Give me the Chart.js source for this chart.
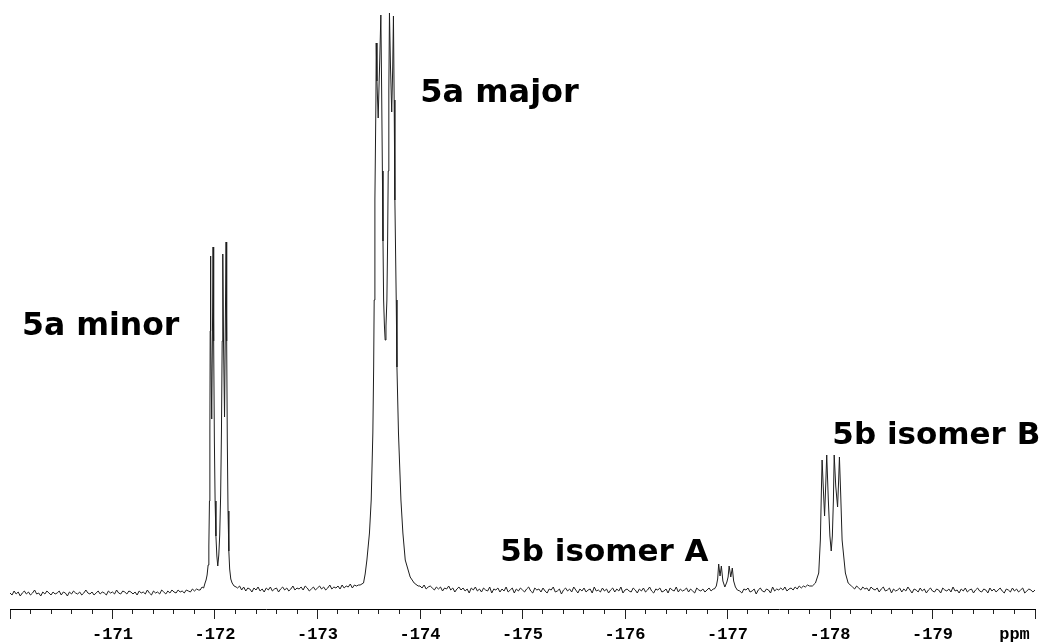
<!DOCTYPE html>
<html><head><meta charset="utf-8">
<script src="https://cdn.jsdelivr.net/npm/chart.js@4.4.1/dist/chart.umd.min.js"></script>
<style>html,body{margin:0;padding:0;background:#fff;overflow:hidden}canvas{display:block}</style>
</head><body>
<canvas id="c" width="1043" height="643"></canvas>
<script>
// ---- Spectrum data (chemical shift in ppm, intensity in arbitrary units) ----
const baseA_ppm = [
-170.00,-170.02,-170.04,-170.06,-170.08,-170.10,-170.12,-170.14,-170.16,-170.18,
-170.20,-170.22,-170.24,-170.26,-170.28,-170.30,-170.32,-170.34,-170.36,-170.38,
-170.40,-170.42,-170.44,-170.46,-170.48,-170.50,-170.52,-170.54,-170.56,-170.58,
-170.60,-170.62,-170.64,-170.66,-170.68,-170.70,-170.72,-170.74,-170.76,-170.78,
-170.80,-170.82,-170.84,-170.86,-170.88,-170.90,-170.92,-170.94,-170.96,-170.98,
-171.00,-171.02,-171.04,-171.06,-171.08,-171.10,-171.12,-171.14,-171.16,-171.18,
-171.20,-171.22,-171.24,-171.26,-171.28,-171.30,-171.32,-171.34,-171.36,-171.38,
-171.40,-171.42,-171.44,-171.46,-171.48,-171.50,-171.52,-171.54,-171.56,-171.58,
-171.60,-171.62,-171.64,-171.66,-171.68,-171.70,-171.72,-171.74,-171.76,-171.78,
-171.80,-171.82,-171.84];
const baseA_int = [
-2,-4,0,-3,-1,-5,-2,0,-3,-1,
-4,-2,1,-3,-2,-5,-1,-3,0,-2,
-4,-1,-3,-2,0,-4,-1,-2,-5,-1,
-3,0,-2,-3,-1,-4,-2,1,-2,-3,
-1,-4,-2,0,-3,-1,-2,-4,0,-2,
-1,-3,1,-2,-3,0,-1,-3,0,-1,
-3,-1,-4,0,-2,-1,-3,1,-2,-4,
0,-2,-1,-3,1,-1,-3,0,-2,1,
-1,-2,1,-1,0,-2,1,0,-1,2,
0,2,1];

const minor_ppm = [-171.855,-171.874,-171.889,-171.903,-171.913,-171.923,-171.933,-171.940,-171.946,-171.950,-171.953,-171.955,-171.960,-171.968,-171.976,-171.981,-171.987,-171.994,-172.001,-172.009,-172.018,-172.027,-172.037,-172.046,-172.055,-172.063,-172.070,-172.076,-172.083,-172.093,-172.101,-172.108,-172.114,-172.120,-172.127,-172.135,-172.143,-172.154,-172.167,-172.186,-172.206];
const minor_int = [1,4,3,8,11,16,26,45,90,160,260,335,260,172,270,344,250,150,90,55,35,25,36,56,95,160,250,337,250,174,270,349,250,150,80,40,22,12,8,5,4];

const baseB_ppm = [
-172.22,-172.24,-172.26,-172.28,-172.30,-172.32,-172.34,-172.36,-172.38,-172.40,
-172.42,-172.44,-172.46,-172.48,-172.50,-172.52,-172.54,-172.56,-172.58,-172.60,
-172.62,-172.64,-172.66,-172.68,-172.70,-172.72,-172.74,-172.76,-172.78,-172.80,
-172.82,-172.84,-172.86,-172.88,-172.90,-172.92,-172.94,-172.96,-172.98,-173.00,
-173.02,-173.04,-173.06,-173.08,-173.10,-173.12,-173.14,-173.16,-173.18,-173.20,
-173.22,-173.24,-173.26,-173.28,-173.30,-173.32,-173.34,-173.36,-173.38,-173.40];
const baseB_int = [
3,5,1,4,0,3,2,-1,3,1,
4,0,2,-1,3,1,4,0,2,3,
-1,2,4,1,3,0,2,5,1,3,
2,4,1,5,3,0,2,4,1,3,
5,2,4,1,3,6,2,4,3,5,
2,6,3,5,4,7,3,6,5,6];

const major_ppm = [-173.416,-173.449,-173.465,-173.482,-173.494,-173.507,-173.524,-173.540,-173.548,-173.553,-173.560,-173.570,-173.573,-173.580,-173.592,-173.607,-173.618,-173.626,-173.633,-173.639,-173.645,-173.653,-173.660,-173.668,-173.677,-173.684,-173.690,-173.696,-173.702,-173.712,-173.724,-173.734,-173.741,-173.748,-173.755,-173.768,-173.775,-173.790,-173.814,-173.833,-173.856,-173.904,-173.943,-173.982];
const major_int = [6,8,17,31,44,58,91,158,224,291,391,491,548,510,473,530,576,500,420,350,291,265,251,265,291,350,420,500,578,525,479,525,575,491,391,291,224,158,91,58,31,14,8,5];

const baseC_ppm = [
-174.00,-174.02,-174.04,-174.06,-174.08,-174.10,-174.12,-174.14,-174.16,-174.18,
-174.20,-174.22,-174.24,-174.26,-174.28,-174.30,-174.32,-174.34,-174.36,-174.38,
-174.40,-174.42,-174.44,-174.46,-174.48,-174.50,-174.52,-174.54,-174.56,-174.58,
-174.60,-174.62,-174.64,-174.66,-174.68,-174.70,-174.72,-174.74,-174.76,-174.78,
-174.80,-174.82,-174.84,-174.86,-174.88,-174.90,-174.92,-174.94,-174.96,-174.98,
-175.00,-175.02,-175.04,-175.06,-175.08,-175.10,-175.12,-175.14,-175.16,-175.18,
-175.20,-175.22,-175.24,-175.26,-175.28,-175.30,-175.32,-175.34,-175.36,-175.38,
-175.40,-175.42,-175.44,-175.46,-175.48,-175.50,-175.52,-175.54,-175.56,-175.58,
-175.60,-175.62,-175.64,-175.66,-175.68,-175.70,-175.72,-175.74,-175.76,-175.78,
-175.80,-175.82,-175.84,-175.86,-175.88,-175.90,-175.92,-175.94,-175.96,-175.98,
-176.00,-176.02,-176.04,-176.06,-176.08,-176.10,-176.12,-176.14,-176.16,-176.18,
-176.20,-176.22,-176.24,-176.26,-176.28,-176.30,-176.32,-176.34,-176.36,-176.38,
-176.40,-176.42,-176.44,-176.46,-176.48,-176.50,-176.52,-176.54,-176.56,-176.58,
-176.60,-176.62,-176.64,-176.66,-176.68,-176.70,-176.72,-176.74,-176.76,-176.78,
-176.80,-176.82,-176.84,-176.86];
const baseC_int = [
5,3,6,2,4,5,3,1,4,2,
4,0,3,2,5,1,3,-1,2,4,
1,3,0,2,-2,3,1,4,0,2,
-1,3,1,0,4,-2,2,1,3,-1,
2,0,4,-1,1,3,-2,2,0,3,
1,-1,2,4,0,-2,3,1,2,-1,
3,0,-2,2,1,4,-1,0,2,-3,
1,3,0,2,-1,4,1,-2,2,0,
3,-1,1,2,-2,4,0,1,-1,3,
0,2,-2,1,3,-1,2,0,4,-2,
1,2,0,-1,3,1,-2,2,0,3,
-1,1,4,0,-2,2,1,3,-1,0,
2,-2,3,1,0,4,-1,2,0,1,
3,-1,2,0,-2,3,1,0,2,-1,
1,3,0,2];

const isoA_ppm = [-176.872,-176.891,-176.904,-176.914,-176.927,-176.940,-176.955,-176.974,-176.994,-177.006,-177.016,-177.032,-177.047,-177.060,-177.077,-177.096];
const isoA_int = [2,5,12,27,15,25,10,4,9,14,25,14,23,10,4,1];

const baseD_ppm = [
-177.12,-177.14,-177.16,-177.18,-177.20,-177.22,-177.24,-177.26,-177.28,-177.30,
-177.32,-177.34,-177.36,-177.38,-177.40,-177.42,-177.44,-177.46,-177.48,-177.50,
-177.52,-177.54,-177.56,-177.58,-177.60,-177.62,-177.64,-177.66,-177.68,-177.70,
-177.72,-177.74,-177.76,-177.78,-177.80];
const baseD_int = [
0,-2,2,1,3,-1,0,2,-3,1,
3,0,-1,2,1,-2,4,0,2,1,
3,1,4,0,2,3,1,4,2,5,
3,5,4,6,5];

const isoB_ppm = [-177.828,-177.858,-177.890,-177.906,-177.916,-177.923,-177.936,-177.947,-177.958,-177.968,-177.984,-177.999,-178.012,-178.023,-178.033,-178.041,-178.056,-178.074,-178.084,-178.092,-178.105,-178.118,-178.150,-178.177,-178.209];
const isoB_int = [5,8,18,51,100,131,100,75,105,136,90,55,40,55,90,136,105,84,110,134,95,51,18,8,5];

const baseE_ppm = [
-178.22,-178.24,-178.26,-178.28,-178.30,-178.32,-178.34,-178.36,-178.38,-178.40,
-178.42,-178.44,-178.46,-178.48,-178.50,-178.52,-178.54,-178.56,-178.58,-178.60,
-178.62,-178.64,-178.66,-178.68,-178.70,-178.72,-178.74,-178.76,-178.78,-178.80,
-178.82,-178.84,-178.86,-178.88,-178.90,-178.92,-178.94,-178.96,-178.98,-179.00,
-179.02,-179.04,-179.06,-179.08,-179.10,-179.12,-179.14,-179.16,-179.18,-179.20,
-179.22,-179.24,-179.26,-179.28,-179.30,-179.32,-179.34,-179.36,-179.38,-179.40,
-179.42,-179.44,-179.46,-179.48,-179.50,-179.52,-179.54,-179.56,-179.58,-179.60,
-179.62,-179.64,-179.66,-179.68,-179.70,-179.72,-179.74,-179.76,-179.78,-179.80,
-179.82,-179.84,-179.86,-179.88,-179.90,-179.92,-179.94,-179.96,-179.98,-180.00];
const baseE_int = [
4,2,5,3,1,4,2,3,0,4,
2,1,3,-1,2,4,0,1,3,-2,
2,0,1,3,-1,2,0,4,1,-2,
2,1,-1,3,0,2,-2,1,3,0,
-1,2,1,-2,3,1,0,2,-1,4,
0,1,-2,2,0,3,-1,1,2,-2,
1,3,0,-1,2,1,-2,3,0,2,
-1,1,3,0,-2,2,1,-1,3,0,
2,-1,1,3,-2,0,2,1,-1,1];

// ---- Axis tick labels ----
const tickValues = [-171,-172,-173,-174,-175,-176,-177,-178,-179];
const tickLabels = ['-171','-172','-173','-174','-175','-176','-177','-178','-179'];
const unitLabel = 'ppm';
const unitTickValue = -179.8;

// ---- Peak labels ----
const peakLabels = ['5a minor','5a major','5b isomer A','5b isomer B'];
const peakLabelStyle = [
  {x:-170.117, y:256, size:31.5},
  {x:-174.002, y:489, size:32},
  {x:-174.783, y:30,  size:31},
  {x:-178.023, y:147, size:31}
];

const shiftPpm = [].concat(baseA_ppm, minor_ppm, baseB_ppm, major_ppm, baseC_ppm, isoA_ppm, baseD_ppm, isoB_ppm, baseE_ppm);
const intensity = [].concat(baseA_int, minor_int, baseB_int, major_int, baseC_int, isoA_int, baseD_int, isoB_int, baseE_int);
const points = shiftPpm.map((x, i) => ({x: x, y: intensity[i]}));

const near = (a, b) => Math.abs(a - b) < 1e-6;
const isMajorTick = v => near(v, Math.round(v));

const labelPlugin = {
  id: 'peakLabels',
  afterDatasetsDraw(chart) {
    const {ctx, scales: {x, y}} = chart;
    ctx.save();
    ctx.fillStyle = '#000';
    ctx.textAlign = 'left';
    ctx.textBaseline = 'alphabetic';
    peakLabels.forEach((t, i) => {
      const s = peakLabelStyle[i];
      ctx.font = 'bold ' + s.size + 'px "DejaVu Sans"';
      ctx.fillText(t, x.getPixelForValue(s.x), y.getPixelForValue(s.y));
    });
    ctx.restore();
  }
};

new Chart(document.getElementById('c').getContext('2d'), {
  type: 'scatter',
  data: {
    datasets: [{
      data: points,
      showLine: true,
      borderColor: '#1e1e1e',
      borderWidth: 1,
      pointRadius: 0,
      tension: 0,
      fill: false
    }]
  },
  options: {
    responsive: false,
    animation: false,
    events: [],
    layout: {padding: {left: 10, right: 8, top: 0, bottom: 0}},
    plugins: {legend: {display: false}, tooltip: {enabled: false}},
    scales: {
      x: {
        type: 'linear',
        reverse: true,
        min: -180,
        max: -170,
        afterFit: scale => { scale.height = 34; },
        border: {display: true, color: '#000', width: 1},
        grid: {
          drawOnChartArea: false,
          drawTicks: true,
          tickLength: 10,
          tickColor: '#222',
          tickWidth: 1,
          tickBorderDash: ctx => (ctx.tick && !isMajorTick(ctx.tick.value)) ? [4, 40] : []
        },
        ticks: {
          stepSize: 0.2,
          maxTicksLimit: 100,
          autoSkip: false,
          maxRotation: 0,
          minRotation: 0,
          padding: 6,
          color: '#000',
          font: {family: "'Liberation Mono', monospace", size: 17, weight: 'bold'},
          callback: function (v) {
            for (let i = 0; i < tickValues.length; i++) {
              if (near(v, tickValues[i])) return tickLabels[i];
            }
            if (near(v, unitTickValue)) return unitLabel;
            return '';
          }
        }
      },
      y: {display: false, min: -18, max: 591}
    }
  },
  plugins: [labelPlugin]
});
</script>
</body></html>
